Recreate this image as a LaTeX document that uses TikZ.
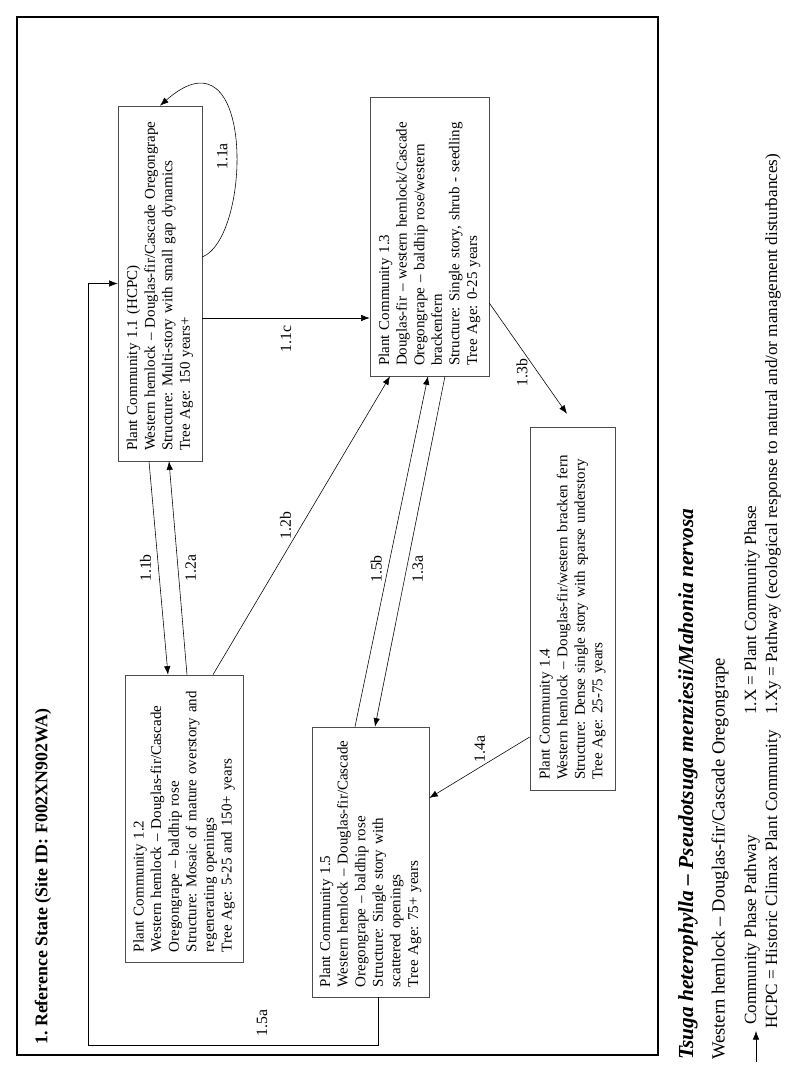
\documentclass[tikz,border=0pt]{standalone}
\usepackage{fontspec}
\setmainfont{Liberation Serif}
\frenchspacing
\usetikzlibrary{arrows.meta,positioning,calc}
\tikzstyle{phase}=[draw=black!70, align=left, inner xsep=7pt, inner ysep=2pt, font=\fontsize{10.5}{12.3}\selectfont]
\tikzstyle{pathway}=[-{Latex[length=6pt,width=4.5pt]}, black]
\tikzstyle{lab}=[inner sep=1pt, font=\fontsize{11}{13}\selectfont]
\tikzstyle{legend}=[anchor=west, inner sep=0pt, font=\fontsize{12}{14}\selectfont]

\begin{document}
\begin{tikzpicture}[x=0.7pt, y=0.7pt, rotate=90, transform shape]
      \useasboundingbox (0,0) rectangle (1067,800);
      %
      \draw[line width=1.8pt] (12,142) rectangle (1050,783);
      \node[anchor=west, inner sep=0pt, font=\bfseries\fontsize{12.5}{14}\selectfont] (title) at (22,757) {1. Reference State (Site ID: F002XN902WA)};
      %
      \node[phase, text width=234.5pt, minimum height=58.8pt] (PC11) at (783.5,640) {Plant Community 1.1 (HCPC)\\ Western hemlock -- Douglas-fir/Cascade Oregongrape\\ Structure: Multi-story with small gap dynamics\\ Tree Age: 150 years+};
      \node[phase, text width=186.9pt, minimum height=82.6pt] (PC12) at (248.5,616) {Plant Community 1.2\\ Western hemlock -- Douglas-fir/Cascade\\ Oregongrape -- baldhip rose\\ Structure: Mosaic of mature overstory and\\ regenerating openings\\ Tree Age: 5-25 and 150+ years};
      \node[phase, text width=181.3pt, minimum height=83.3pt] (PC13) at (830.5,370.5) {Plant Community 1.3\\ Douglas-fir -- western hemlock/Cascade\\ Oregongrape -- baldhip rose/western\\ brackenfern\\ Structure: Single story, shrub - seedling\\ Tree Age: 0-25 years};
      \node[phase, text width=240.1pt, minimum height=59.5pt] (PC14) at (458.5,227.5) {Plant Community 1.4\\ Western hemlock -- Douglas-fir/western bracken fern\\ Structure: Dense single story with sparse understory\\ Tree Age: 25-75 years};
      \node[phase, text width=175pt, minimum height=81.9pt] (PC15) at (205,429.5) {Plant Community 1.5\\ Western hemlock -- Douglas-fir/Cascade\\ Oregongrape -- baldhip rose\\ Structure: Single story with\\ scattered openings\\ Tree Age: 75+ years};
      %
      \draw[pathway] ($(PC11.south)+(26.5,0)$) .. controls +(20,-50) and +(84,-95) .. node[lab, pos=0.45, above=5pt] (l11a) {1.1a} (PC11.east);
      \draw[pathway] ($(PC11.south)+(-34.5,0)$) -- node[lab, midway, left=4pt] (l11c) {1.1c} ($(PC13.north)+(-81.5,0)$);
      \draw[pathway] ($(PC11.west)+(0,11)$) -- node[lab, midway, above=4pt] (l11b) {1.1b} ($(PC12.east)+(0,16)$);
      \draw[pathway] ($(PC12.east)+(0,-3)$) -- node[lab, midway, below=4pt] (l12a) {1.2a} ($(PC11.west)+(0,-9)$);
      \draw[pathway] ($(PC12.east)+(0,-29)$) -- node[lab, midway, above=6pt] (l12b) {1.2b} ($(PC13.west)+(0,39.5)$);
      \draw[pathway] ($(PC15.east)+(0,15.5)$) -- node[lab, pos=0.45, above=3pt] (l15b) {1.5b} ($(PC13.west)+(0,1.5)$);
      \draw[pathway] ($(PC13.west)+(0,-15.5)$) -- node[lab, pos=0.55, below=3pt] (l13a) {1.3a} ($(PC15.east)+(0,-4.5)$);
      \draw[pathway, shorten >=11pt] ($(PC13.south)+(-66.5,0)$) -- node[lab, pos=0.56, above=6pt] (l13b) {1.3b} ($(PC14.east)+(0,-3.5)$);
      \draw[pathway] ($(PC14.north)+(-128.5,0)$) -- node[lab, pos=0.2, above=16pt] (l14a) {1.4a} ($(PC15.south)+(64,0)$);
      \coordinate (c15a) at (22,712);
      \draw[pathway] ($(PC15.west)+(0,-7.5)$) -| node[lab, pos=0.7, right=5pt] (l15a) {1.5a} (c15a) -| (PC11.north);
      %
      \node[anchor=west, inner sep=0pt, font=\bfseries\itshape\fontsize{15}{17}\selectfont] (sci) at (7,112) {Tsuga heterophylla -- Pseudotsuga menziesii/Mahonia nervosa};
      \node[anchor=west, inner sep=0pt, font=\fontsize{13}{15}\selectfont] (common) at (7,80) {Western hemlock -- Douglas-fir/Cascade Oregongrape};
      \coordinate (lgA) at (5,44);
      \coordinate (lgB) at (36,44);
      \draw[pathway] (lgA) -- (lgB);
      \node[legend] (cpp) at (42,48) {Community Phase Pathway};
      \node[legend] (hcpc) at (38,27) {HCPC = Historic Climax Plant Community};
      \node[legend] (phx) at (352,48) {1.X = Plant Community Phase};
      \node[legend] (phxy) at (352,27) {1.Xy = Pathway (ecological response to natural and/or management disturbances)};
      %
\end{tikzpicture}
\end{document}
